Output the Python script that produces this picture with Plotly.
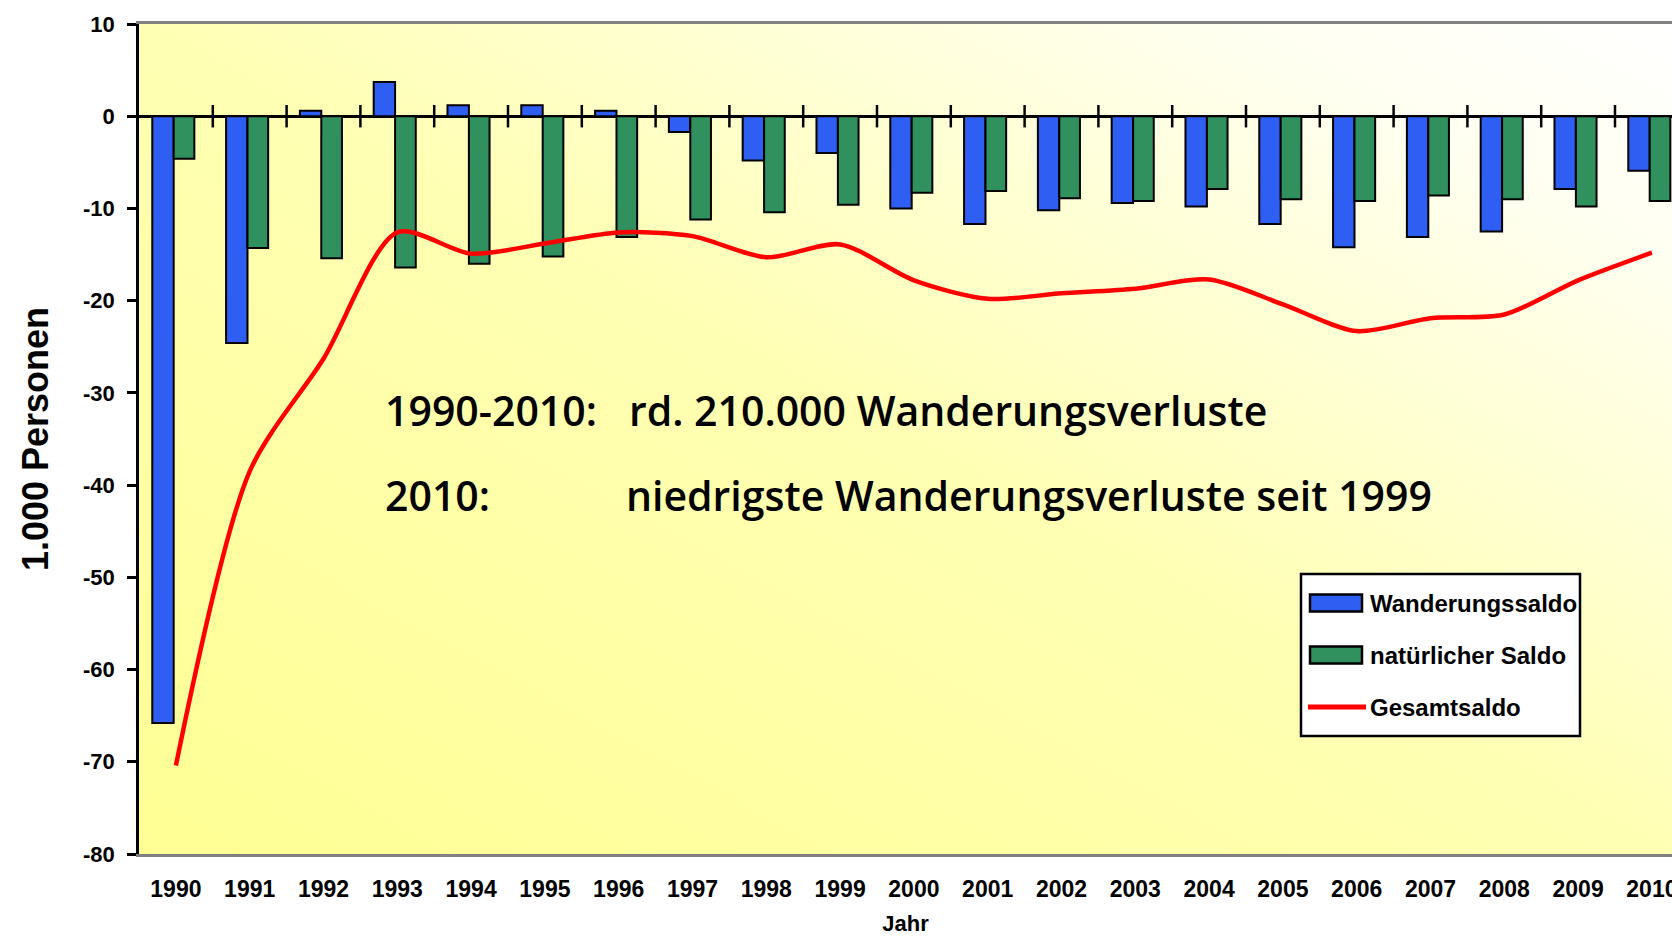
import base64
import plotly.graph_objects as go

# ---------------- data ----------------
years = [str(y) for y in range(1990, 2011)]
wanderungssaldo = [-65.8, -24.6, 0.6, 3.7, 1.2, 1.2, 0.6, -1.7, -4.8, -4.0, -10.0,
                   -11.7, -10.2, -9.4, -9.8, -11.7, -14.2, -13.1, -12.5, -7.9, -5.9]
natuerlicher_saldo = [-4.6, -14.3, -15.4, -16.4, -16.0, -15.2, -13.1, -11.2, -10.4, -9.6, -8.3,
                      -8.1, -8.9, -9.2, -7.9, -9.0, -9.2, -8.6, -9.0, -9.8, -9.2]
gesamtsaldo = [-70.4, -38.5, -26.3, -12.6, -14.9, -13.8, -12.6, -13.0, -15.3, -13.9, -17.8,
               -19.8, -19.2, -18.7, -17.7, -20.4, -23.3, -21.9, -21.5, -17.8, -14.8]
y_ticks = [10, 0, -10, -20, -30, -40, -50, -60, -70, -80]
y_ticktext = [str(v) for v in y_ticks]
series_names = ["Wanderungssaldo", "natürlicher Saldo", "Gesamtsaldo"]
note_labels = ["1990-2010:", "2010:"]
note_texts = ["rd. 210.000 Wanderungsverluste", "niedrigste Wanderungsverluste seit 1999"]

# ---------------- layout geometry (pixels) ----------------
W, H = 1672, 936
L, T, R, B = 139, 24, 1672, 854
def px(x):
    return (x - L) / (R - L)
def py(y):
    return (B - y) / (B - T)

BLUE = "#2f5ff2"
GREEN = "#30915e"
RED = "#ff0000"
FAM = "Liberation Sans, Arial, sans-serif"
XTICKFONT = dict(family=FAM, size=23, color="black", weight="bold")
YTICKFONT = dict(family=FAM, size=22, color="black", weight="bold")

idx = list(range(len(years)))

fig = go.Figure()
fig.add_trace(go.Bar(x=idx, y=wanderungssaldo, name=series_names[0], width=0.29, offset=-0.32,
                     marker=dict(color=BLUE, line=dict(color="black", width=2)),
                     showlegend=False))
fig.add_trace(go.Bar(x=idx, y=natuerlicher_saldo, name=series_names[1], width=0.28, offset=-0.03,
                     marker=dict(color=GREEN, line=dict(color="black", width=2)),
                     showlegend=False))
fig.add_trace(go.Scatter(x=idx, y=gesamtsaldo, name=series_names[2], mode="lines",
                         line=dict(color=RED, width=4.5, shape="spline", smoothing=0.8),
                         showlegend=False))
# category boundary tick marks on the zero line
bounds = [i + 0.5 for i in idx[:-1]]
fig.add_trace(go.Scatter(x=bounds, y=[0] * len(bounds), mode="markers",
                         marker=dict(symbol="line-ns", size=16, line=dict(color="black", width=2.5)),
                         hoverinfo="skip", showlegend=False))

# gradient background image
svg = (f"<svg xmlns='http://www.w3.org/2000/svg' width='{R-L}' height='{B-T}' preserveAspectRatio='none'>"
       "<defs><linearGradient id='g' x1='0' y1='1' x2='1' y2='0'>"
       "<stop offset='0' stop-color='#ffff94'/>"
       "<stop offset='0.5' stop-color='#ffffb4'/>"
       "<stop offset='0.85' stop-color='#fffff0'/>"
       "<stop offset='1' stop-color='#ffffff'/>"
       "</linearGradient></defs>"
       f"<rect width='{R-L}' height='{B-T}' fill='url(#g)'/></svg>")
src = "data:image/svg+xml;base64," + base64.b64encode(svg.encode()).decode()

fig.update_layout(
    width=W, height=H,
    margin=dict(l=L, r=W - R, t=T, b=H - B, autoexpand=False),
    paper_bgcolor="white",
    plot_bgcolor="rgba(0,0,0,0)",
    barmode="overlay",
    images=[dict(source=src, xref="paper", yref="paper", x=0, y=1, sizex=1, sizey=1,
                 sizing="stretch", layer="below", xanchor="left", yanchor="top")],
    xaxis=dict(range=[-0.5, (R - L) / 73.8 - 0.5], tickvals=idx, ticktext=years,
               ticks="", tickfont=XTICKFONT, ticklabelstandoff=12, ticklabeloverflow="allow",
               showline=True, linecolor="#808080", linewidth=3, mirror=True,
               showgrid=False, zeroline=False,
               title=dict(text="Jahr", font=dict(family=FAM, size=22,
                                                  color="black", weight="bold"), standoff=26)),
    yaxis=dict(range=[-80, 10], tickvals=y_ticks, ticktext=y_ticktext, ticks="outside",
               ticklen=9, tickwidth=2.5,
               tickcolor="black", tickfont=YTICKFONT, ticklabelstandoff=8,
               showline=True, linecolor="black", linewidth=2.5,
               showgrid=False, zeroline=True, zerolinecolor="black", zerolinewidth=3,
               title=dict(text="1.000 Personen",
                          font=dict(family=FAM, size=36, color="black",
                                    weight="bold"), standoff=24)),
)

# notes
NOTEFONT = dict(family="Open Sans, Lato, sans-serif", size=41, color="black", weight=600)
for i, (lab, txt) in enumerate(zip(note_labels, note_texts)):
    yy = [410, 495][i]
    fig.add_annotation(x=px(383), y=py(yy), xref="paper", yref="paper", text=lab,
                       showarrow=False, xanchor="left", yanchor="middle", font=NOTEFONT)
    fig.add_annotation(x=px([627, 624][i]), y=py(yy), xref="paper", yref="paper", text=txt,
                       showarrow=False, xanchor="left", yanchor="middle", font=NOTEFONT)

# custom legend
fig.add_shape(type="rect", xref="paper", yref="paper", x0=px(1301), x1=px(1580),
              y0=py(736), y1=py(574), fillcolor="white", line=dict(color="black", width=2.5))
LEGFONT = dict(family=FAM, size=24, color="black", weight="bold")
leg_y = [603, 655, 707]
sym_colors = [BLUE, GREEN]
for k, name in enumerate(series_names):
    yc = leg_y[k]
    if k < 2:
        fig.add_shape(type="rect", xref="paper", yref="paper", x0=px(1310), x1=px(1362),
                      y0=py(yc + 8.5), y1=py(yc - 8.5), fillcolor=sym_colors[k],
                      line=dict(color="black", width=2.5))
    else:
        fig.add_shape(type="line", xref="paper", yref="paper", x0=px(1308), x1=px(1366),
                      y0=py(yc), y1=py(yc), line=dict(color=RED, width=5))
    fig.add_annotation(x=px(1368), y=py(yc), xref="paper", yref="paper", text=name,
                       showarrow=False, xanchor="left", yanchor="middle", font=LEGFONT)

fig.write_html("out.html", config={"displayModeBar": False},
               post_script="document.body.style.margin='0';document.body.style.overflow='hidden';")
